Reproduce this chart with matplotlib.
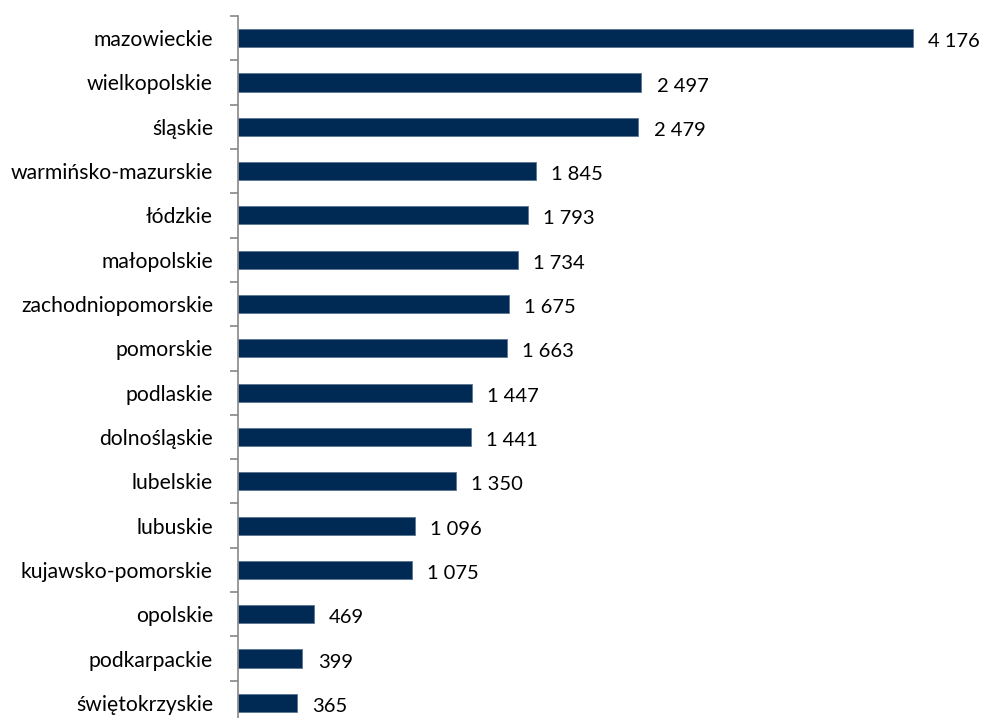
import matplotlib
matplotlib.use("Agg")
import matplotlib.pyplot as plt
import numpy as np

regiony = ["mazowieckie", "wielkopolskie", "śląskie", "warmińsko-mazurskie", "łódzkie",
           "małopolskie", "zachodniopomorskie", "pomorskie", "podlaskie", "dolnośląskie",
           "lubelskie", "lubuskie", "kujawsko-pomorskie", "opolskie", "podkarpackie",
           "świętokrzyskie"]
wartosci = [4176, 2497, 2479, 1845, 1793, 1734, 1675, 1663, 1447, 1441, 1350, 1096, 1075,
            469, 399, 365]

plt.rcParams['font.family'] = ['Lato', 'DejaVu Sans']

fig = plt.figure(figsize=(9.83, 7.18), dpi=100)
# top of axis at 16 px, bottom boundary is below the image edge
W, H = 983, 718
ax = fig.add_axes([238 / W, -7 / H, 727 / W, (725 - 16) / H])

n = len(regiony)
y = np.arange(n)
ax.barh(y, wartosci, height=0.41, color='#002A54', edgecolor='#5A7592', linewidth=0.6)
ax.set_ylim(n - 0.5, -0.5)
ax.set_xlim(0, 4500)

for yi, v in zip(y, wartosci):
    txt = f"{v:,}".replace(",", "\u2005")
    ax.text(v + 95, yi + 0.08, txt, va='center', ha='left', fontsize=14.5, color='#000000')

ax.set_yticks(y)
ax.set_yticklabels(regiony, fontsize=15.2)
ax.set_yticks(np.arange(-0.5, n, 1), minor=True)
ax.tick_params(axis='y', which='major', length=0, pad=18)
ax.tick_params(axis='y', which='minor', length=6, color='#888888', width=1.2)
ax.set_xticks([])
for s in ['top', 'right', 'bottom']:
    ax.spines[s].set_visible(False)
ax.spines['left'].set_color('#888888')
ax.spines['left'].set_linewidth(1.2)

fig.savefig("out.png", dpi=100)
